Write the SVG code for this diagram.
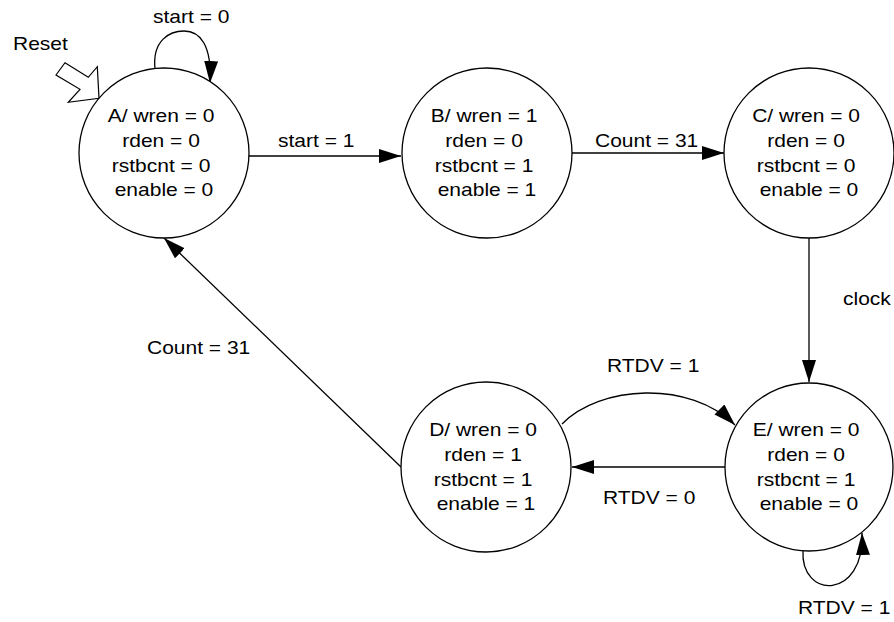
<svg xmlns="http://www.w3.org/2000/svg" width="894" height="622" viewBox="0 0 894 622">
  <style>
    text { font-family: "Liberation Sans", Arial, sans-serif; font-size: 17.5px; fill: #000; }
    .state { fill: #fff; stroke: #000; stroke-width: 1.3; }
    .mid { text-anchor: middle; }
    .edge { fill: none; stroke: #000; stroke-width: 1.3; marker-end: url(#head); }
    .reset { fill: #fff; stroke: #000; stroke-width: 1.2; stroke-linejoin: miter; }
  </style>
  <defs>
    <marker id="head" markerUnits="userSpaceOnUse" markerWidth="23" markerHeight="15" refX="22" refY="7" orient="auto">
      <path d="M0,0 L22,7 L0,14 Z" fill="#000"/>
    </marker>
  </defs>

  <rect width="894" height="622" fill="#fff"/>

  <!-- reset entry arrow -->
  <g id="reset">
    <polygon class="reset" points="65,62.7 88.3,77.3 97.3,66.7 99,98.3 68.3,102.3 80,89.3 56,75"/>
    <text transform="translate(13 50) scale(1.2 1)">Reset</text>
  </g>

  <!-- transitions -->
  <g id="connectors">
    <path class="edge" d="M155,69 C152,40 170,31 184,31 C200,31 212,45 210,83"/>
    <path class="edge" d="M248,156 L401,156"/>
    <path class="edge" d="M572,153 L724,153"/>
    <path class="edge" d="M809,238 L809,382"/>
    <path class="edge" d="M725,467 L572,467"/>
    <path class="edge" d="M562,424 C600,385 690,380 735,425"/>
    <path class="edge" d="M401,467 L164,238"/>
    <path class="edge" d="M803,550 C800,600 865,600 862,533"/>

    <text transform="translate(153 23) scale(1.2 1)">start = 0</text>
    <text transform="translate(278 147) scale(1.2 1)">start = 1</text>
    <text transform="translate(595 147) scale(1.2 1)">Count = 31</text>
    <text transform="translate(843 305) scale(1.2 1)">clock</text>
    <text transform="translate(147 354) scale(1.2 1)">Count = 31</text>
    <text transform="translate(607 372) scale(1.2 1)">RTDV = 1</text>
    <text transform="translate(603 504) scale(1.2 1)">RTDV = 0</text>
    <text transform="translate(798 614) scale(1.2 1)">RTDV = 1</text>
  </g>

  <!-- states -->
  <g id="state-A">
    <circle class="state" cx="164" cy="153" r="85"/>
    <text class="mid" transform="translate(164 153) scale(1.2 1)">
      <tspan x="0" y="-31">A/ wren = 0</tspan>
      <tspan x="0" y="-6.2">rden = 0</tspan>
      <tspan x="0" y="18.6">rstbcnt = 0</tspan>
      <tspan x="0" y="43.4">enable = 0</tspan>
    </text>
  </g>

  <g id="state-B">
    <circle class="state" cx="487" cy="153" r="85"/>
    <text class="mid" transform="translate(487 153) scale(1.2 1)">
      <tspan x="0" y="-31">B/ wren = 1</tspan>
      <tspan x="0" y="-6.2">rden = 0</tspan>
      <tspan x="0" y="18.6">rstbcnt = 1</tspan>
      <tspan x="0" y="43.4">enable = 1</tspan>
    </text>
  </g>

  <g id="state-C">
    <circle class="state" cx="809" cy="153" r="85"/>
    <text class="mid" transform="translate(809 153) scale(1.2 1)">
      <tspan x="0" y="-31">C/ wren = 0</tspan>
      <tspan x="0" y="-6.2">rden = 0</tspan>
      <tspan x="0" y="18.6">rstbcnt = 0</tspan>
      <tspan x="0" y="43.4">enable = 0</tspan>
    </text>
  </g>

  <g id="state-D">
    <circle class="state" cx="486" cy="467" r="85"/>
    <text class="mid" transform="translate(486 467) scale(1.2 1)">
      <tspan x="0" y="-31">D/ wren = 0</tspan>
      <tspan x="0" y="-6.2">rden = 1</tspan>
      <tspan x="0" y="18.6">rstbcnt = 1</tspan>
      <tspan x="0" y="43.4">enable = 1</tspan>
    </text>
  </g>

  <g id="state-E">
    <circle class="state" cx="809" cy="467" r="84"/>
    <text class="mid" transform="translate(809 467) scale(1.2 1)">
      <tspan x="0" y="-31">E/ wren = 0</tspan>
      <tspan x="0" y="-6.2">rden = 0</tspan>
      <tspan x="0" y="18.6">rstbcnt = 1</tspan>
      <tspan x="0" y="43.4">enable = 0</tspan>
    </text>
  </g>
</svg>
